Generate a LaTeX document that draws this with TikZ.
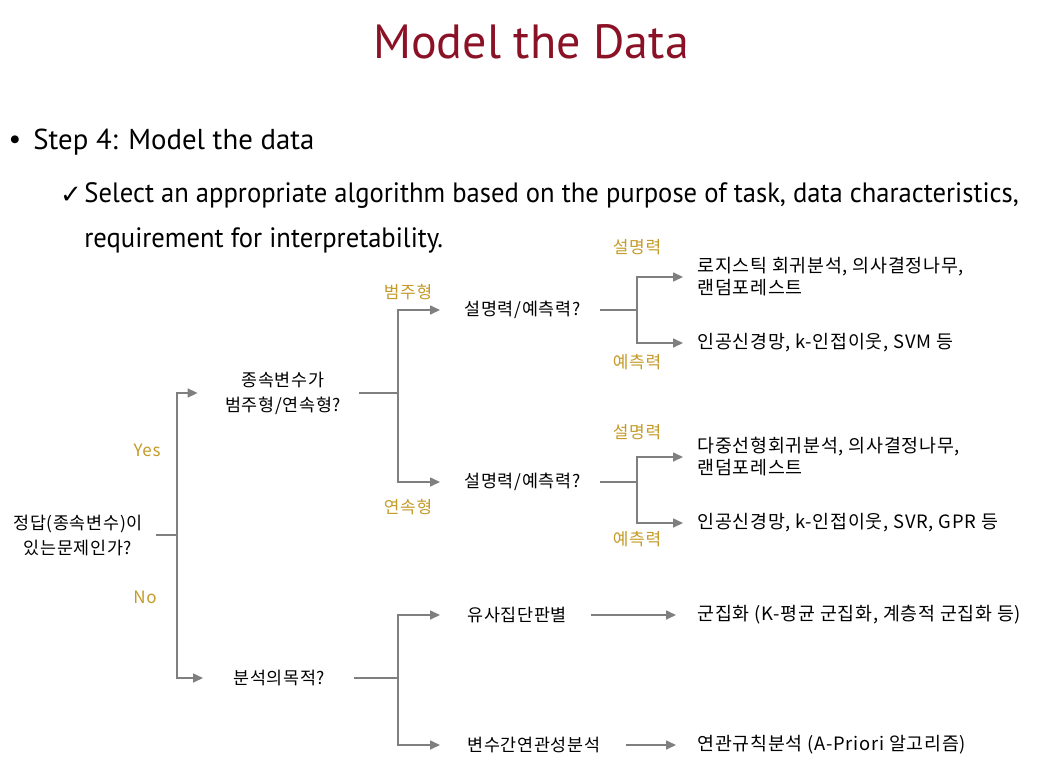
\documentclass[tikz,border=0pt]{standalone}
\usepackage{fontspec}
\setmainfont{PT Sans}
\newfontfamily\narrowfont[FakeStretch=0.95]{PT Sans}
\newfontfamily\kor[LetterSpace=4]{Noto Sans CJK KR}
\newfontfamily\symfont{DejaVu Sans}
\usetikzlibrary{arrows.meta,positioning}
\definecolor{titlered}{HTML}{8B1226}
\definecolor{gold}{HTML}{C49A28}
\definecolor{linegray}{HTML}{7F7F7F}

\begin{document}
\begin{tikzpicture}[x=0.5pt,y=-0.5pt,
  ktext/.style={font=\kor\fontsize{8.7}{12.5}\selectfont, inner sep=0pt},
  qnode/.style={ktext, anchor=west},
  leaf/.style={ktext, anchor=west, align=left, font=\kor\fontsize{9.2}{11}\selectfont},
  lbl/.style={font=\kor\fontsize{8.5}{10}\selectfont, text=gold, inner sep=0pt},
  conn/.style={draw=linegray, line width=0.8pt},
  arr/.style={conn, -{Triangle[length=5pt,width=4.5pt]}}]
  \useasboundingbox (0,0) rectangle (1043,776);
  % heading
  \node[font=\fontsize{24}{28}\selectfont, text=titlered] (title) at (531,42) {Model the Data};
  \node[font=\fontsize{14}{16}\selectfont] (dot) at (15,142) {•};
  \node[font=\fontsize{14.4}{16}\selectfont, anchor=west, inner sep=0pt] (step) at (33,142) {Step 4: Model the data};
  \node[font=\symfont\fontsize{13}{15}\selectfont] (tick) at (71,195) {✓};
  \node[font=\narrowfont\fontsize{14}{22.5}\selectfont, anchor=west, align=left, inner sep=0pt] (goal) at (84,217.5)
    {Select an appropriate algorithm based on the purpose of task, data characteristics,\\requirement for interpretability.};
  % questions
  \node[ktext, align=center] (root) at (78,535) {정답(종속변수)이\\있는문제인가?};
  \node[ktext, align=center] (dep) at (283,393) {종속변수가\\범주형/연속형?};
  \node[qnode] (purp) at (233,678) {분석의목적?};
  \node[qnode] (q1) at (464,310) {설명력/예측력?};
  \node[qnode] (q2) at (464,482) {설명력/예측력?};
  \node[qnode] (clus) at (467,615) {유사집단판별};
  \node[qnode] (assoc) at (467,745) {변수간연관성분석};
  % algorithms
  \node[leaf] (lf1) at (697,277) {로지스틱 회귀분석, 의사결정나무,\\랜덤포레스트};
  \node[leaf] (lf2) at (697,343) {인공신경망, k-인접이웃, SVM 등};
  \node[leaf] (lf3) at (697,457) {다중선형회귀분석, 의사결정나무,\\랜덤포레스트};
  \node[leaf] (lf4) at (697,523) {인공신경망, k-인접이웃, SVR, GPR 등};
  \node[leaf] (lf5) at (697,615) {군집화 (K-평균 군집화, 계층적 군집화 등)};
  \node[leaf] (lf6) at (697,745) {연관규칙분석 (A-Priori 알고리즘)};
  % branch points
  \coordinate (j0) at (177,535);
  \coordinate (j1) at (398,393);
  \coordinate (j2) at (637,310);
  \coordinate (j3) at (637,482);
  \coordinate (j4) at (398,678);
  % branch labels
  \node[lbl] (yes) at (147,450) {Yes};
  \node[lbl] (no) at (145,597) {No};
  \node[lbl] (cat) at (408,292) {범주형};
  \node[lbl] (cont) at (408,507) {연속형};
  \node[lbl] (ex1) at (637,247) {설명력};
  \node[lbl] (pr1) at (637,362) {예측력};
  \node[lbl] (ex2) at (637,432) {설명력};
  \node[lbl] (pr2) at (637,539) {예측력};
  % connectors
  \draw[conn, shorten <=6.5pt] (root) -- (j0);
  \draw[arr, shorten >=13.5pt] (j0) |- (dep);
  \draw[arr, shorten >=15pt] (j0) |- (purp);
  \draw[conn, shorten <=9pt] (dep) -- (j1);
  \foreach \q in {q1,q2}
    \draw[arr, shorten >=12pt] (j1) |- (\q);
  \draw[conn, shorten <=9.5pt] (q1) -- (j2);
  \draw[conn, shorten <=9.5pt] (q2) -- (j3);
  \foreach \j/\a/\b in {j2/lf1/lf2, j3/lf3/lf4} {
    \draw[arr, shorten >=7pt] (\j) |- (\a);
    \draw[arr, shorten >=7pt] (\j) |- (\b);
  }
  \draw[conn, shorten <=14pt] (purp) -- (j4);
  \foreach \q in {clus,assoc}
    \draw[arr, shorten >=13.5pt] (j4) |- (\q);
  \draw[arr, shorten <=12pt, shorten >=10.5pt] (clus) -- (lf5);
  \draw[arr, shorten <=12.5pt, shorten >=10.5pt] (assoc) -- (lf6);
\end{tikzpicture}
\end{document}
